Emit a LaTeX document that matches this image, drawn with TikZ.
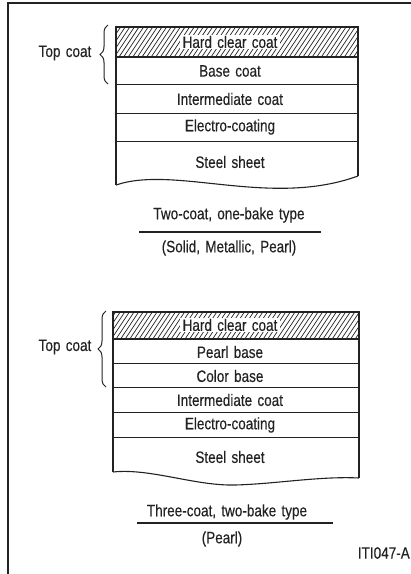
\documentclass[tikz,border=0pt]{standalone}
\usepackage{fontspec}
\setmainfont{Liberation Sans}[FakeStretch=0.82,FakeBold=0.35,WordSpace=1.4]
\usetikzlibrary{decorations.pathreplacing}
\definecolor{ink}{HTML}{222222}
\begin{document}
\begin{tikzpicture}[x=1pt,y=-1pt,
  every node/.style={font=\fontsize{16.5}{19}\selectfont, text=ink, inner sep=0pt},
  layer/.style={draw=ink, line width=1.1pt},
  sep/.style={draw=ink, line width=0.9pt},
  hatch/.style={draw=ink, line width=0.7pt},
  clearlbl/.style={fill=white, inner xsep=3pt, inner ysep=1pt},
  bracestyle/.style={draw=ink, line width=1pt, decorate, decoration={brace, amplitude=8pt, aspect=0.5}},
  rule/.style={draw=ink, line width=1.1pt}]
\useasboundingbox (0,0) rectangle (411,574);
% frame
\draw[ink, line width=1.4pt] (8,574) -- (8,3) -- (411,3);

% ===== upper diagram =====
\begin{scope}
\clip (116,27) rectangle (358,57);
\foreach \i in {0,...,64} \draw[hatch] ({96+\i*4.6},57) -- ++(20,-30);
\end{scope}
\draw[layer] (116,185) -- (116,27) -- (358,27) -- (358,176);
\draw[layer] (116,185) .. controls (175,165) and (270,208) .. (358,176);
\draw[layer] (116,57) -- (358,57);
\draw[sep] (116,84) -- (358,84);
\draw[sep] (116,113) -- (358,113);
\draw[sep] (116,141) -- (358,141);
\node[clearlbl] (hc1) at (230,42) {Hard clear coat};
\node (bc1) at (230,71) {Base coat};
\node (ic1) at (230,99) {Intermediate coat};
\node (ec1) at (230,127) {Electro-coating};
\node (ss1) at (230,162) {Steel sheet};
\draw[bracestyle] (108,84) -- (108,25);
\node (tc1) at (65,53) {Top coat};
\node (t1) at (229,215) {Two-coat, one-bake type};
\draw[rule] (139,232) -- (321,232);
\node (s1) at (229,248) {(Solid, Metallic, Pearl)};

% ===== lower diagram =====
\begin{scope}
\clip (113,312) rectangle (359,339);
\foreach \i in {0,...,66} \draw[hatch] ({93+\i*4.6},339) -- ++(18,-27);
\end{scope}
\draw[layer] (113,472) -- (113,312) -- (359,312) -- (359,478);
\draw[layer] (113,472) .. controls (150,468) and (195,486) .. (235,485) .. controls (275,484) and (320,476) .. (359,478);
\draw[layer] (113,339) -- (359,339);
\draw[sep] (113,363) -- (359,363);
\draw[sep] (113,387) -- (359,387);
\draw[sep] (113,412) -- (359,412);
\draw[sep] (113,437) -- (359,437);
\node[clearlbl] (hc2) at (230,325) {Hard clear coat};
\node (pb2) at (230,352) {Pearl base};
\node (cb2) at (230,376) {Color base};
\node (ic2) at (230,400) {Intermediate coat};
\node (ec2) at (230,425) {Electro-coating};
\node (ss2) at (230,457) {Steel sheet};
\draw[bracestyle] (106,387) -- (106,311);
\node (tc2) at (65,347) {Top coat};
\node (t2) at (227,512) {Three-coat, two-bake type};
\draw[rule] (137,523) -- (333,523);
\node (s2) at (222,539) {(Pearl)};
\node[anchor=east] (id) at (410,553) {ITI047-A};
\end{tikzpicture}
\end{document}
